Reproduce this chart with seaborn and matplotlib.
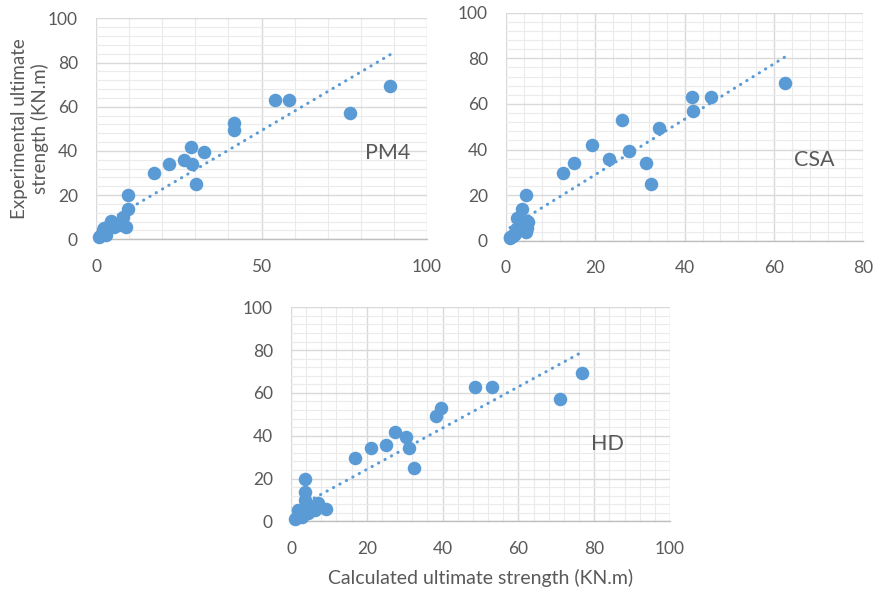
"""
plot.py
=======
Experimental vs. calculated ultimate strength for three design methods
(PM4, CSA, HD). Scatter of all specimens plus a linear trendline, Excel look.
Saves out.png.
"""

import numpy as np
import pandas as pd
import matplotlib
matplotlib.use("Agg")
import matplotlib.pyplot as plt
from matplotlib.ticker import MultipleLocator
import seaborn as sns

OUT_PATH = "out.png"

# experimental ultimate strength (KN.m), one per specimen
experimental = [69.3, 57.0, 63.0, 63.0, 52.8, 49.3, 39.4, 41.8, 35.7, 34.1,
                34.2, 24.9, 29.8, 19.9, 13.9, 10.0, 8.5, 5.6, 5.4, 6.5,
                8.0, 4.0, 5.3, 3.0, 2.5, 1.5, 1.0, 2.0]

# calculated ultimate strength (KN.m) for each method, same specimen order
calc_pm4 = [88.9, 76.8, 58.3, 54.2, 41.8, 41.8, 32.5, 28.6, 26.7, 29.1,
            22.0, 30.1, 17.6, 9.7, 9.7, 8.3, 4.5, 9.1, 5.5, 7.0,
            7.5, 2.0, 2.3, 2.5, 1.8, 1.2, 1.0, 3.0]
calc_csa = [62.5, 41.9, 46.0, 41.7, 26.0, 34.3, 27.5, 19.2, 23.1, 31.3,
            15.2, 32.4, 12.7, 4.5, 3.5, 2.5, 4.8, 4.8, 4.5, 4.2,
            4.9, 4.5, 2.2, 2.0, 1.6, 1.0, 0.9, 1.5]
calc_hd = [76.9, 71.0, 52.9, 48.6, 39.5, 38.3, 30.3, 27.4, 25.0, 31.2,
           21.0, 32.4, 17.0, 3.6, 3.6, 3.6, 7.2, 9.1, 6.3, 5.0,
           6.8, 4.5, 1.8, 2.4, 2.0, 1.2, 1.0, 2.8]

methods = ["PM4", "CSA", "HD"]
x_max = [100, 80, 100]
x_major = [50, 20, 20]
label_pos = [(88, 39), (69, 35.5), (83.5, 36)]

BLUE = "#5b9bd5"
GREY_TXT = "#595959"


def style_axis(ax, xmax, xmajor):
    ax.set_xlim(0, xmax)
    ax.set_ylim(0, 100)
    ax.xaxis.set_major_locator(MultipleLocator(xmajor))
    ax.xaxis.set_minor_locator(MultipleLocator(xmajor / 5))
    ax.yaxis.set_major_locator(MultipleLocator(20))
    ax.yaxis.set_minor_locator(MultipleLocator(4))
    ax.grid(which="major", color="#d9d9d9", linewidth=1.0)
    ax.grid(which="minor", color="#ebebeb", linewidth=0.8)
    ax.set_axisbelow(True)
    for side in ["top", "right", "left"]:
        ax.spines[side].set_visible(False)
    ax.spines["bottom"].set_color("#bfbfbf")
    ax.spines["bottom"].set_linewidth(1.0)
    ax.tick_params(which="both", length=0, colors=GREY_TXT, labelsize=12.5)
    ax.tick_params(axis="x", pad=14)
    ax.tick_params(axis="y", pad=13)
    ax.set_xlabel("")
    ax.set_ylabel("")


def main():
    sns.set_theme(style="white")
    plt.rcParams["font.family"] = ["Lato", "DejaVu Sans"]

    df = pd.DataFrame({
        "experimental": experimental * 3,
        "calculated": calc_pm4 + calc_csa + calc_hd,
        "method": np.repeat(methods, len(experimental)),
    })

    fig = plt.figure(figsize=(8.76, 5.89), dpi=100)
    boxes = [
        [0.1096, 0.5937, 0.3779, 0.3752],
        [0.5776, 0.5913, 0.4079, 0.3871],
        [0.3322, 0.1149, 0.4327, 0.3633],
    ]

    for i, m in enumerate(methods):
        ax = fig.add_axes(boxes[i])
        sub = df[df["method"] == m]
        sns.regplot(data=sub, x="calculated", y="experimental", ax=ax,
                    scatter=False, ci=None, truncate=True,
                    line_kws=dict(color=BLUE, linewidth=2.2,
                                  linestyle=(0, (0.1, 2.3)),
                                  dash_capstyle="round", zorder=2))
        sns.scatterplot(data=sub, x="calculated", y="experimental", ax=ax,
                        color=BLUE, s=95, linewidth=0, alpha=1, zorder=3,
                        clip_on=False)
        style_axis(ax, x_max[i], x_major[i])
        ax.text(label_pos[i][0], label_pos[i][1], m, ha="center", va="center",
                fontsize=15.5, color=GREY_TXT)

        if i == 0:
            ax.set_ylabel("Experimental ultimate\nstrength (KN.m)",
                          fontsize=13.5, color=GREY_TXT, labelpad=-1)
        if i == 2:
            ax.set_xlabel("Calculated ultimate strength (KN.m)",
                          fontsize=14, color=GREY_TXT, labelpad=9)

    fig.savefig(OUT_PATH, dpi=100)
    plt.close(fig)


if __name__ == "__main__":
    main()
